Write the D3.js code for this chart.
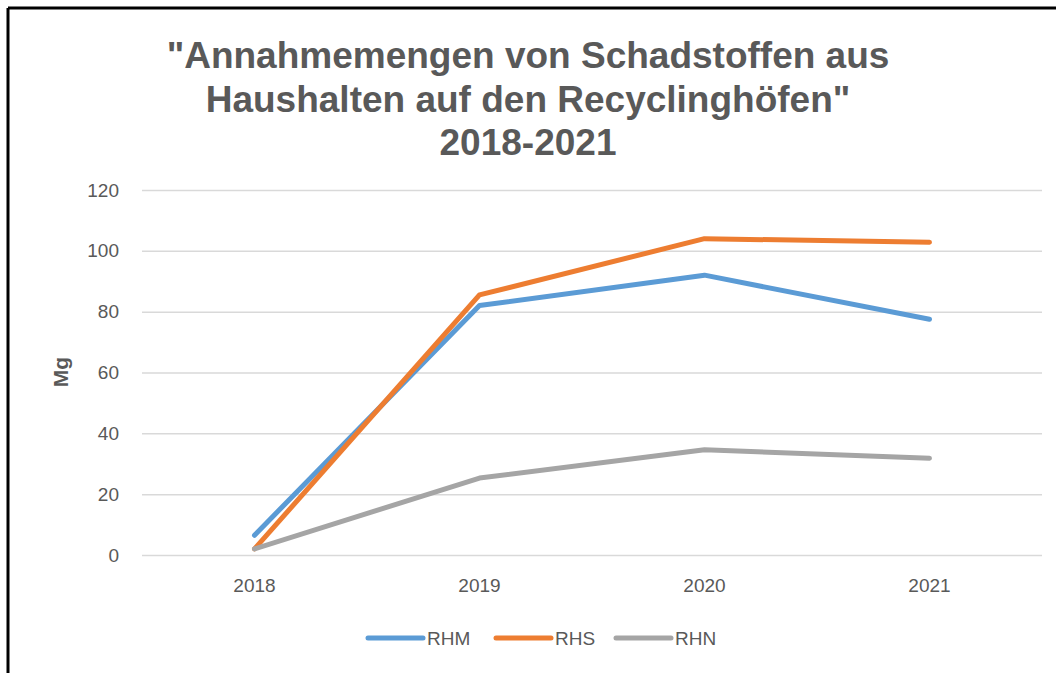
<!DOCTYPE html>
<html>
  <head>
    <meta http-equiv="Content-Type" content="text/html;charset=utf-8">
    <title>Annahmemengen</title>
    <script src="https://d3js.org/d3.v7.min.js"></script>
    <style>
      html, body {
        margin: 0;
        padding: 0;
        background: #fff;
      }
      svg { display: block; }
      .grid line { stroke: #d9d9d9; stroke-width: 1.5px; }
      .tick text { fill: #595959; font-family: "Liberation Sans", Arial, sans-serif; font-size: 19px; }
      .series { fill: none; stroke-width: 5px; stroke-linecap: round; stroke-linejoin: round; }
    </style>
  </head>
  <body>
    <script type="text/javascript">

var years = ["2018", "2019", "2020", "2021"];
var rhm = [6.5, 82, 92, 77.5];
var rhs = [2, 85.5, 104, 102.8];
var rhn = [2, 25.3, 34.6, 31.8];
var seriesNames = ["RHM", "RHS", "RHN"];
var seriesColors = ["#5b9bd5", "#ed7d31", "#a5a5a5"];
var yTicks = [0, 20, 40, 60, 80, 100, 120];
var titleLines = ["\"Annahmemengen von Schadstoffen aus", "Haushalten auf den Recyclinghöfen\"", "2018-2021"];

var W = 1056, H = 673;
var svg = d3.select("body").append("svg")
  .attr("width", W)
  .attr("height", H);

// frame (top and left only are visible)
svg.append("line").attr("x1", 8).attr("x2", W).attr("y1", 8).attr("y2", 8)
  .style("stroke", "#000").style("stroke-width", 3);
svg.append("line").attr("x1", 8).attr("x2", 8).attr("y1", 8).attr("y2", H)
  .style("stroke", "#000").style("stroke-width", 3);

var plotLeft = 142, plotRight = 1042, plotTop = 190, plotBottom = 555;

var x = d3.scaleBand().domain(years).range([plotLeft, plotRight]);
var y = d3.scaleLinear().domain([0, 120]).range([plotBottom, plotTop]);

// gridlines + y labels
var yAxis = svg.append("g")
  .attr("class", "grid")
  .attr("transform", "translate(" + plotLeft + ",0)")
  .call(d3.axisLeft(y).tickValues(yTicks).tickSize(-(plotRight - plotLeft)).tickPadding(23));
yAxis.select(".domain").remove();

var xAxis = svg.append("g")
  .attr("transform", "translate(0," + plotBottom + ")")
  .call(d3.axisBottom(x).tickSize(0).tickPadding(24));
xAxis.select(".domain").remove();

// axis title
svg.append("text")
  .attr("transform", "translate(68,372) rotate(-90)")
  .attr("text-anchor", "middle")
  .style("font-family", "Liberation Sans, Arial, sans-serif")
  .style("font-weight", "bold")
  .style("font-size", "21px")
  .style("fill", "#595959")
  .text("Mg");

// title
svg.append("g").selectAll("text")
  .data(titleLines)
  .enter().append("text")
  .attr("x", 528)
  .attr("y", function(d, i) { return 68 + i * 43.5; })
  .attr("text-anchor", "middle")
  .style("font-family", "Liberation Sans, Arial, sans-serif")
  .style("font-weight", "bold")
  .style("font-size", "37px")
  .style("fill", "#595959")
  .text(function(d) { return d; });

var line = d3.line()
  .x(function(d, i) { return x(years[i]) + x.bandwidth() / 2; })
  .y(function(d) { return y(d); });

var allSeries = [rhm, rhs, rhn];
svg.selectAll(".series")
  .data(allSeries)
  .enter().append("path")
  .attr("class", "series")
  .attr("d", function(d) { return line(d); })
  .style("stroke", function(d, i) { return seriesColors[i]; });

// legend
var legendX = [368, 496, 616];
var legend = svg.selectAll(".legend")
  .data(seriesNames)
  .enter().append("g")
  .attr("transform", function(d, i) { return "translate(" + legendX[i] + ",638)"; });
legend.append("line")
  .attr("x1", 0).attr("x2", 55)
  .style("stroke", function(d, i) { return seriesColors[i]; })
  .style("stroke-width", 5)
  .style("stroke-linecap", "round");
legend.append("text")
  .attr("x", 59)
  .attr("y", 7)
  .style("font-family", "Liberation Sans, Arial, sans-serif")
  .style("font-size", "19px")
  .style("fill", "#595959")
  .text(function(d) { return d; });

    </script>
  </body>
</html>
